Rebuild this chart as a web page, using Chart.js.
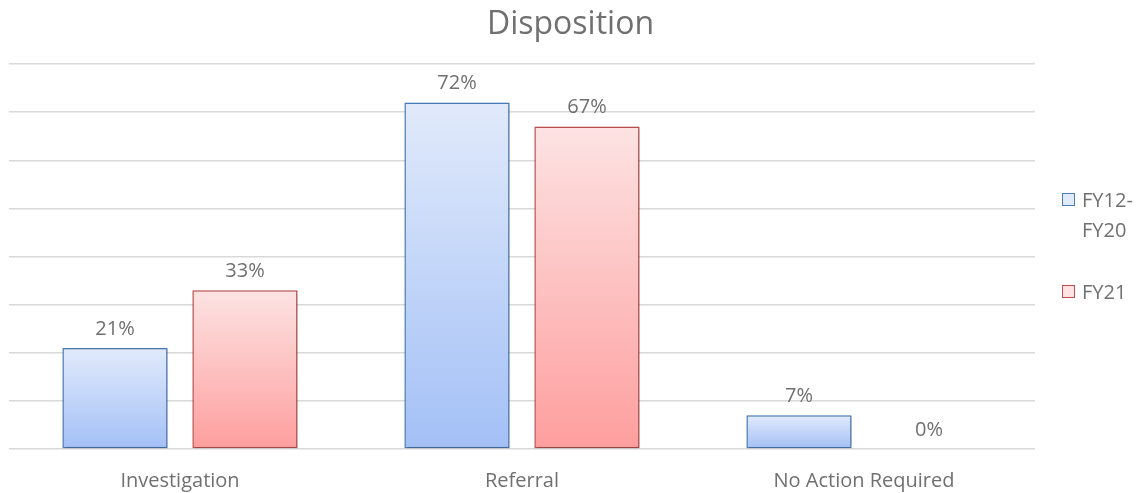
<!DOCTYPE html>
<html>
<head>
<meta charset="utf-8">
<script src="https://cdn.jsdelivr.net/npm/chart.js@4/dist/chart.umd.min.js"></script>
<style>
  html, body { margin: 0; padding: 0; background: #fff; overflow: hidden; }
  #wrap { position: relative; width: 1141px; height: 493px; }
  canvas { display: block; }
  #legend { position: absolute; left: 1062px; top: 185px; font-family: "Open Sans", sans-serif; font-size: 20px; color: #707070; }
  .item { display: flex; align-items: flex-start; margin-bottom: 32px; line-height: 30px; }
  .box { width: 11px; height: 11px; margin-top: 8px; margin-right: 7px; flex: none; }
</style>
</head>
<body>
<div id="wrap">
  <canvas id="chart1" width="1141" height="493"></canvas>
  <div id="legend"></div>
</div>
<script>
const categories = ['Investigation', 'Referral', 'No Action Required'];
const seriesNames = ['FY12-FY20', 'FY21'];
const fy12to20 = [21, 72, 7];
const fy21 = [33, 67, 0];

const textColor = '#707070';
const fontFamily = '"Open Sans", sans-serif';

const looks = [
  { top: '#e1eafb', bottom: '#a3c0f6', border: '#4a7ebb' },
  { top: '#fde3e3', bottom: '#fe9e9e', border: '#c0504d' }
];

function barFill(ctx, look) {
  const chart = ctx.chart;
  const y = chart.scales.y;
  if (!y || ctx.raw === undefined) return look.bottom;
  const top = y.getPixelForValue(ctx.raw);
  const base = y.getPixelForValue(0);
  if (!isFinite(top) || top === base) return look.bottom;
  const g = chart.ctx.createLinearGradient(0, top, 0, base);
  g.addColorStop(0, look.top);
  g.addColorStop(1, look.bottom);
  return g;
}

// labels over the bars
const valueLabels = {
  id: 'valueLabels',
  afterDatasetsDraw(chart) {
    const ctx = chart.ctx;
    ctx.save();
    ctx.font = '20px ' + fontFamily;
    ctx.fillStyle = textColor;
    ctx.textAlign = 'center';
    ctx.textBaseline = 'middle';
    chart.data.datasets.forEach((ds, i) => {
      chart.getDatasetMeta(i).data.forEach((bar, j) => {
        ctx.fillText(ds.data[j] + '%', bar.x, bar.y - 19);
      });
    });
    ctx.restore();
  }
};

// soft shadow like the office chart
const barShadow = {
  id: 'barShadow',
  beforeDatasetDraw(chart) {
    const ctx = chart.ctx;
    ctx.save();
    ctx.shadowColor = 'rgba(0,0,0,0.28)';
    ctx.shadowBlur = 3;
    ctx.shadowOffsetX = 1;
    ctx.shadowOffsetY = 1;
  },
  afterDatasetDraw(chart) {
    chart.ctx.restore();
  }
};

const data1 = {
  labels: categories,
  datasets: [fy12to20, fy21].map((vals, i) => ({
    label: seriesNames[i],
    data: vals,
    backgroundColor: ctx => barFill(ctx, looks[i]),
    borderColor: looks[i].border,
    borderWidth: 1.5,
    borderSkipped: false,
    categoryPercentage: 0.76,
    barPercentage: 0.81
  }))
};

const config1 = {
  type: 'bar',
  data: data1,
  options: {
    responsive: false,
    animation: false,
    layout: { padding: 0 },
    plugins: {
      legend: { display: false },
      tooltip: { enabled: false },
      title: {
        display: true,
        text: 'Disposition',
        color: textColor,
        font: { family: fontFamily, size: 32, weight: 'normal', lineHeight: 1.2 },
        padding: { top: 6, bottom: 19.6 }
      }
    },
    scales: {
      x: {
        grid: { display: false, drawTicks: false },
        border: { display: false },
        ticks: { color: textColor, font: { family: fontFamily, size: 20 }, padding: 20 },
        afterFit: scale => { scale.height = 44; }
      },
      y: {
        min: 0,
        max: 80,
        ticks: { display: false, stepSize: 10 },
        grid: { color: '#d9d9d9', lineWidth: 1.5, drawTicks: false },
        border: { display: false },
        afterFit: scale => { scale.width = 9; }
      },
      // empty axis on the right keeps room for the legend
      yRight: {
        position: 'right',
        min: 0,
        max: 80,
        ticks: { display: false },
        grid: { display: false, drawTicks: false },
        border: { display: false },
        afterFit: scale => { scale.width = 106; }
      }
    }
  },
  plugins: [barShadow, valueLabels]
};

const myChart1 = new Chart(document.getElementById('chart1').getContext('2d'), config1);

// legend on the right, text wraps like the original
const legend = document.getElementById('legend');
const legendText = [['FY12-', 'FY20'], ['FY21']];
data1.datasets.forEach((ds, i) => {
  const item = document.createElement('div');
  item.className = 'item';
  const box = document.createElement('span');
  box.className = 'box';
  box.style.background = looks[i].top;
  box.style.border = '1.5px solid ' + looks[i].border;
  const txt = document.createElement('span');
  txt.innerHTML = legendText[i].join('<br>');
  item.appendChild(box);
  item.appendChild(txt);
  legend.appendChild(item);
});
</script>
</body>
</html>
